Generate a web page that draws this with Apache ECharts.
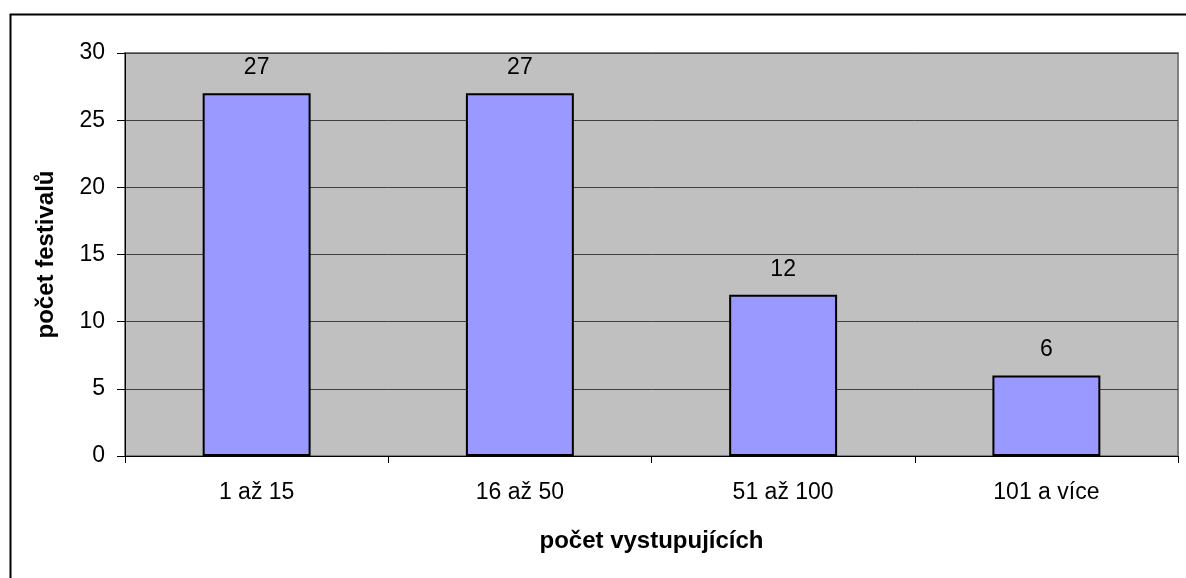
<!DOCTYPE html>
<html><head><meta charset="utf-8">
<script src="https://cdn.jsdelivr.net/npm/echarts@6/dist/echarts.min.js"></script>
<style>html,body{margin:0;padding:0;background:#fff}#c{width:1186px;height:578px}</style>
</head><body><div id="c"></div>
<script>
const categories = ['1 až 15', '16 až 50', '51 až 100', '101 a více'];
const values = [27, 27, 12, 6];
const yTicks = [0, 5, 10, 15, 20, 25, 30];
const xTitle = 'počet vystupujících';
const yTitle = 'počet festivalů';

const chart = echarts.init(document.getElementById('c'), null, {renderer: 'canvas'});
const font = 'Liberation Sans, Arial, sans-serif';
chart.setOption({
  animation: false,
  backgroundColor: '#fff',
  graphic: [{
    type: 'rect', left: 8, top: 12, z: 100,
    shape: {width: 1200, height: 600},
    style: {fill: 'none', stroke: '#000', lineWidth: 2}
  }],
  grid: {
    left: 125, top: 53, right: 8, bottom: 122,
    show: true, backgroundColor: '#C0C0C0', borderColor: '#808080', borderWidth: 2
  },
  xAxis: {
    type: 'category', data: categories, boundaryGap: true,
    name: xTitle, nameLocation: 'middle', nameGap: 73,
    nameTextStyle: {fontFamily: font, fontSize: 24, fontWeight: 'bold', color: '#000'},
    axisLine: {lineStyle: {color: '#000', width: 1}},
    axisTick: {show: true, length: 7, lineStyle: {color: '#000'}},
    axisLabel: {fontFamily: font, fontSize: 23, color: '#000', margin: 25}
  },
  yAxis: {
    type: 'value', min: yTicks[0], max: yTicks[yTicks.length - 1], interval: 5,
    name: yTitle, nameLocation: 'middle', nameGap: 67, nameRotate: 90,
    nameTextStyle: {fontFamily: font, fontSize: 24, fontWeight: 'bold', color: '#000'},
    axisLine: {show: true, lineStyle: {color: '#000', width: 1}},
    axisTick: {show: true, length: 8, lineStyle: {color: '#000'}},
    axisLabel: {fontFamily: font, fontSize: 23, color: '#000', margin: 20},
    splitLine: {show: true, lineStyle: {color: '#404040', width: 1}}
  },
  series: [{
    type: 'bar', data: values, barWidth: '41%',
    itemStyle: {color: '#9999FF', borderColor: '#000', borderWidth: 2},
    label: {show: true, position: 'top', distance: 14, fontFamily: font, fontSize: 23, color: '#000'}
  }]
});
</script></body></html>
